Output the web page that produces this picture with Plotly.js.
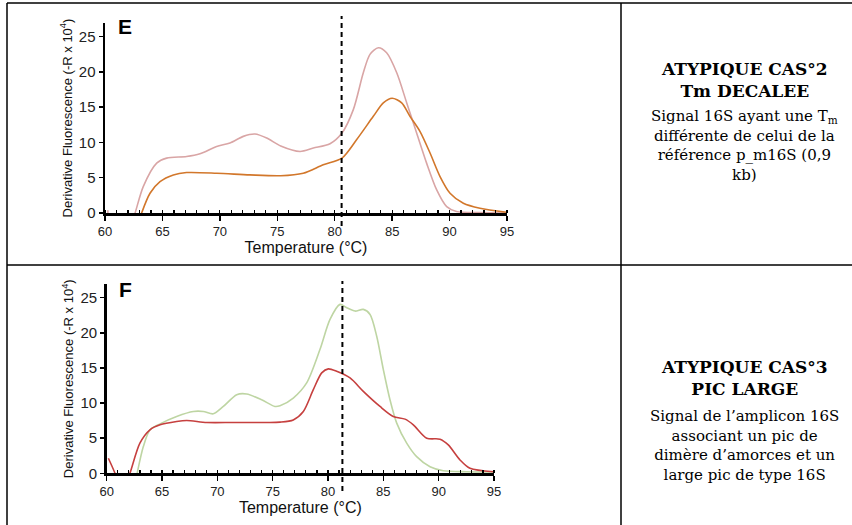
<!DOCTYPE html>
<html><head><meta charset="utf-8">
<script src="https://cdn.plot.ly/plotly-3.0.1.min.js"></script>
<style>html,body{margin:0;padding:0;background:#fff}#c{width:852px;height:525px}</style>
</head><body><div id="c"></div><script>
// Panel E
const eTempPink = [60.25, 60.45, 62.3, 62.62, 63.33, 64.5, 65.37, 67.1, 68.27, 69.72, 70.88, 72.04, 73.06, 74.08, 75.3, 76.98, 78.14, 79.59, 80.63, 81.62, 82.49, 83.07, 83.8, 84.52, 85.4, 86.27, 87.14, 88.0, 88.88, 89.75, 90.6, 92.65, 95];
const ePink = [0.4, -1.5, -1.5, 0, 3.74, 7.07, 7.78, 8.0, 8.39, 9.43, 9.91, 10.86, 11.19, 10.62, 9.5, 8.72, 9.2, 9.81, 11.33, 14.65, 19.87, 22.48, 23.42, 22.7, 19.87, 15.6, 11.3, 7.07, 3.27, 0.9, 0.2, 0.05, 0];
const eTempOrange = [62.9, 63.19, 63.92, 64.79, 65.95, 67.1, 69.73, 72.6, 75.3, 77.26, 79.0, 80.63, 81.9, 83.36, 84.23, 85.0, 85.83, 86.55, 87.42, 88.3, 89.17, 90.04, 91.2, 92.65, 94.97];
const eOrange = [-1.5, 0, 2.8, 4.45, 5.4, 5.73, 5.64, 5.4, 5.28, 5.64, 6.83, 7.78, 10.38, 13.7, 15.6, 16.26, 15.6, 13.7, 11.57, 8.5, 5.17, 2.8, 1.38, 0.67, 0.1];
const eTm = [80.6];
// Panel F
const fTempRed = [60.15, 60.75, 61.4, 62.1, 63.0, 63.91, 64.82, 66.32, 67.23, 69.04, 71.44, 74.46, 75.66, 76.86, 77.77, 78.67, 79.43, 80.03, 80.78, 81.99, 83.19, 84.7, 85.9, 86.96, 87.71, 88.92, 90.12, 90.87, 91.93, 92.83, 94.94];
const fRed = [2.14, 0, -3, 0, 4.29, 6.19, 6.9, 7.37, 7.51, 7.23, 7.23, 7.23, 7.28, 7.6, 8.8, 11.9, 14.29, 14.86, 14.51, 13.57, 11.66, 9.51, 8.09, 7.71, 6.9, 5.0, 4.86, 4.04, 1.9, 0.71, 0.23];
const fTempGreen = [62.5, 62.75, 63.31, 63.91, 64.82, 66.32, 67.83, 68.73, 69.63, 70.54, 71.75, 72.65, 74.0, 75.2, 75.66, 76.86, 78.07, 79.27, 80.18, 81.08, 81.69, 82.44, 83.19, 83.8, 84.4, 85.0, 85.6, 86.21, 87.11, 88.01, 89.22, 90.42, 92.53, 94.94];
const fGreen = [-2, 0, 3.8, 6.19, 7.04, 8.09, 8.8, 8.8, 8.47, 9.51, 11.19, 11.29, 10.47, 9.51, 9.61, 10.71, 12.86, 17.61, 21.9, 24.04, 23.57, 23.09, 23.33, 22.61, 19.51, 14.76, 10.47, 7.14, 4.29, 2.37, 0.94, 0.37, 0.23, 0.19];
const fTm = [81.3];
// Labels
const panelLabels = ['E', 'F'];
const xTickVals = [60, 65, 70, 75, 80, 85, 90, 95];
const yTickVals = [0, 5, 10, 15, 20, 25];
const xTitle = 'Temperature (°C)';
const yTitle = 'Derivative Fluorescence (-R x 10<sup>4</sup>)';
const row1Title = ['ATYPIQUE CAS°2', 'Tm DECALEE'];
const row1Body = ['Signal 16S ayant une T<sub>m</sub>', 'différente de celui de la', 'référence p_m16S (0,9', 'kb)'];
const row2Title = ['ATYPIQUE CAS°3', 'PIC LARGE'];
const row2Body = ['Signal de l’amplicon 16S', 'associant un pic de', 'dimère d’amorces et un', 'large pic de type 16S'];

const W = 852, H = 525;
const px = v => v / W, py = v => 1 - v / H;
const sans = 'Liberation Sans, Arial, sans-serif';
const serif = 'DejaVu Serif, serif';

function line(x, y, color, xa, ya) {
  return {x: x, y: y, type: 'scatter', mode: 'lines', xaxis: xa, yaxis: ya,
    line: {color: color, width: 1.6, shape: 'spline', smoothing: 0.8}, hoverinfo: 'skip', showlegend: false};
}
const data = [
  line(eTempPink, ePink, '#d9a5a5', 'x', 'y'),
  line(eTempOrange, eOrange, '#d2772b', 'x', 'y'),
  line(fTempGreen, fGreen, '#bed5a3', 'x2', 'y2'),
  line(fTempRed, fRed, '#c6403f', 'x2', 'y2')
];

function xax(domain, anchor) {
  return {domain: domain, anchor: anchor, range: [60, 95], tickvals: xTickVals, ticks: 'outside', ticklen: 5, tickwidth: 1.5,
    tickcolor: '#000', showline: true, linewidth: 2.5, linecolor: '#000', showgrid: false, zeroline: false,
    minor: {dtick: 1, tick0: 60, ticks: 'inside', ticklen: 3, tickwidth: 1.2, tickcolor: '#000', showgrid: false},
    tickfont: {family: sans, size: 13, color: '#222'}, automargin: false,
    title: {text: xTitle, font: {family: sans, size: 16, color: '#111'}, standoff: 2}};
}
function yax(domain, anchor) {
  return {domain: domain, anchor: anchor, range: [0, 26.9], tickvals: yTickVals, ticks: 'outside', ticklen: 4, tickwidth: 1.5,
    tickcolor: '#000', showline: true, linewidth: 2.5, linecolor: '#000', showgrid: false, zeroline: false,
    tickfont: {family: sans, size: 15, color: '#222'}, automargin: false,
    title: {text: yTitle, font: {family: sans, size: 13, color: '#111'}, standoff: 4}};
}

const shapes = [
  {type: 'line', xref: 'paper', yref: 'paper', x0: px(7), x1: 1, y0: py(3), y1: py(3), line: {color: '#000', width: 1.5}},
  {type: 'line', xref: 'paper', yref: 'paper', x0: px(7), x1: 1, y0: py(265), y1: py(265), line: {color: '#000', width: 1.5}},
  {type: 'line', xref: 'paper', yref: 'paper', x0: px(7), x1: px(7), y0: py(3), y1: 0, line: {color: '#000', width: 1.5}},
  {type: 'line', xref: 'paper', yref: 'paper', x0: px(621), x1: px(621), y0: py(3), y1: 0, line: {color: '#000', width: 1.5}},
  {type: 'line', xref: 'x', yref: 'paper', x0: eTm[0], x1: eTm[0], y0: py(226), y1: py(16), line: {color: '#000', width: 2, dash: '5px,4px'}},
  {type: 'line', xref: 'x2', yref: 'paper', x0: fTm[0], x1: fTm[0], y0: py(491), y1: py(281), line: {color: '#000', width: 2, dash: '5px,4px'}}
];

const annotations = [
  {text: '<b>' + panelLabels[0] + '</b>', xref: 'paper', yref: 'paper', x: px(125.5), y: py(26), showarrow: false, xanchor: 'center', yanchor: 'middle', font: {family: sans, size: 21, color: '#000'}},
  {text: '<b>' + panelLabels[1] + '</b>', xref: 'paper', yref: 'paper', x: px(125.5), y: py(289), showarrow: false, xanchor: 'center', yanchor: 'middle', font: {family: sans, size: 21, color: '#000'}}
];
function addBlock(lines, yc, bold, size) {
  const t = lines.map(s => bold ? '<b>' + s + '</b>' : s).join('<br>');
  annotations.push({text: t, xref: 'paper', yref: 'paper', x: px(744), y: py(yc), align: 'center',
    showarrow: false, xanchor: 'center', yanchor: 'middle', font: {family: serif, size: size, color: '#000'}});
}
addBlock(row1Title, 80, true, 17);
addBlock(row1Body, 145.5, false, 15);
addBlock(row2Title, 378, true, 17);
addBlock(row2Body, 445.5, false, 15);

const layout = {
  width: W, height: H, margin: {l: 0, r: 0, t: 0, b: 0}, paper_bgcolor: '#fff', plot_bgcolor: 'rgba(0,0,0,0)', showlegend: false,
  xaxis: xax([px(105), px(507)], 'y'),
  yaxis: yax([py(213), py(23.2)], 'x'),
  xaxis2: xax([px(106.7), px(494)], 'y2'),
  yaxis2: yax([py(473.3), py(284.3)], 'x2'),
  shapes: shapes, annotations: annotations
};
Plotly.newPlot('c', data, layout, {staticPlot: true, displayModeBar: false});
</script></body></html>
